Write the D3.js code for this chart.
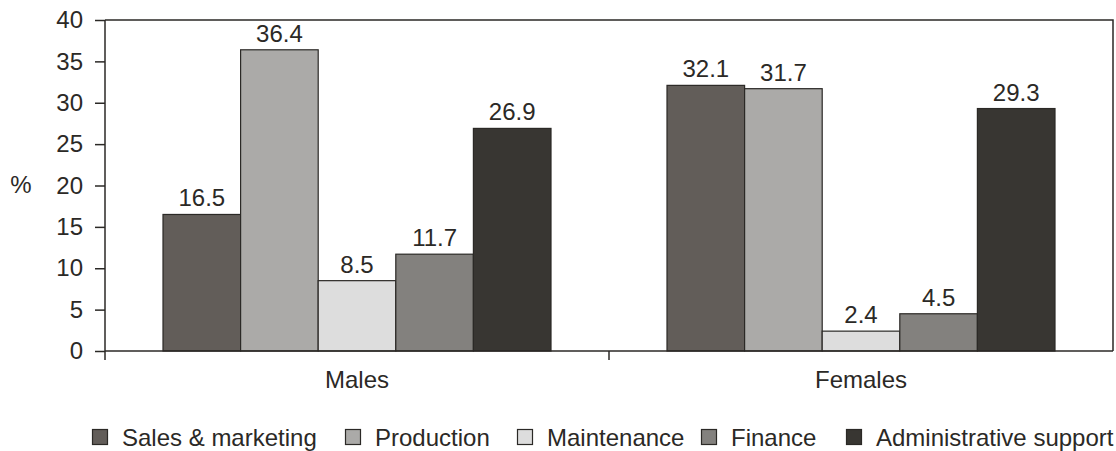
<!DOCTYPE html>
<html>
<head>
<meta charset="utf-8">
<script src="https://cdn.jsdelivr.net/npm/d3@7"></script>
<style>
  html, body { margin: 0; padding: 0; background: #fff; }
  svg text { font-family: "Liberation Sans", Arial, sans-serif; fill: #2b2926; }
</style>
</head>
<body>
<svg id="chart" width="1116" height="451"></svg>
<script>
const groups = ["Males", "Females"];
const series = ["Sales & marketing", "Production", "Maintenance", "Finance", "Administrative support"];
const males = [16.5, 36.4, 8.5, 11.7, 26.9];
const females = [32.1, 31.7, 2.4, 4.5, 29.3];
const yTicks = [0, 5, 10, 15, 20, 25, 30, 35, 40];
const colors = ["#625d59", "#abaaa8", "#dddddd", "#83817e", "#383632"];

const values = [males, females];
const FONT = 24;
const INK = "#2b2926";
const svg = d3.select("#chart");
const m = { left: 105, right: 1113, top: 20, bottom: 351 };

const x0 = d3.scaleBand().domain(groups).range([m.left, m.right]).paddingInner(0).paddingOuter(0);
const x1 = d3.scaleBand().domain(series).range([58, x0.bandwidth() - 58]).padding(0);
const y = d3.scaleLinear().domain([0, 40]).range([m.bottom, m.top]);

// frame: top and right edges
svg.append("path")
  .attr("d", `M${m.left},${m.top}H${m.right}V${m.bottom}`)
  .attr("fill", "none").attr("stroke", INK).attr("stroke-width", 1.5);

// bars and value labels
const g = svg.selectAll("g.grp").data(groups).join("g")
  .attr("class", "grp")
  .attr("transform", d => `translate(${x0(d)},0)`);

g.each(function(grp, gi) {
  const sel = d3.select(this);
  const data = series.map((s, i) => ({ s, i, v: values[gi][i] }));
  sel.selectAll("rect").data(data).join("rect")
    .attr("x", d => x1(d.s))
    .attr("y", d => y(d.v))
    .attr("width", x1.bandwidth())
    .attr("height", d => y(0) - y(d.v))
    .attr("fill", d => colors[d.i])
    .attr("stroke", INK)
    .attr("stroke-width", 1.2);
  sel.selectAll("text.val").data(data).join("text")
    .attr("class", "val")
    .attr("x", d => x1(d.s) + x1.bandwidth() / 2)
    .attr("y", d => y(d.v) - 8)
    .attr("text-anchor", "middle")
    .attr("font-size", FONT)
    .text(d => d.v.toFixed(1));
});

// y axis
const yAxis = svg.append("g")
  .attr("transform", `translate(${m.left},0)`)
  .call(d3.axisLeft(y).tickValues(yTicks).tickSize(10).tickPadding(12));
yAxis.select(".domain").attr("stroke", INK).attr("stroke-width", 1.5)
  .attr("d", `M0,${m.top}V${m.bottom + 9}`);
yAxis.selectAll(".tick line").attr("stroke", INK).attr("stroke-width", 1.5);
yAxis.selectAll(".tick text").attr("font-size", FONT)
  .style("font-family", "Liberation Sans, Arial, sans-serif").attr("fill", INK);

// x axis
const xAxis = svg.append("g")
  .attr("transform", `translate(0,${m.bottom})`)
  .call(d3.axisBottom(x0).tickSize(0).tickPadding(20));
xAxis.select(".domain").attr("stroke", INK).attr("stroke-width", 1.5)
  .attr("d", `M${m.left},0H${m.right}`);
xAxis.selectAll(".tick text").attr("font-size", FONT)
  .style("font-family", "Liberation Sans, Arial, sans-serif").attr("fill", INK);
// divider tick between the two groups
svg.append("line")
  .attr("x1", x0("Females")).attr("x2", x0("Females"))
  .attr("y1", m.bottom).attr("y2", m.bottom + 9)
  .attr("stroke", INK).attr("stroke-width", 1.5);

// y label
svg.append("text").attr("x", 21).attr("y", 193).attr("text-anchor", "middle")
  .attr("font-size", FONT).text("%");

// legend
const legendX = [92, 345, 517, 701, 846];
const leg = svg.selectAll("g.leg").data(series).join("g")
  .attr("class", "leg")
  .attr("transform", (d, i) => `translate(${legendX[i]},429)`);
leg.append("rect").attr("x", 0.5).attr("y", 0.5).attr("width", 15).attr("height", 15)
  .attr("fill", (d, i) => colors[i]).attr("stroke", INK).attr("stroke-width", 1.2);
leg.append("text").attr("x", 30).attr("y", 17).attr("font-size", FONT).text(d => d);
</script>
</body>
</html>
